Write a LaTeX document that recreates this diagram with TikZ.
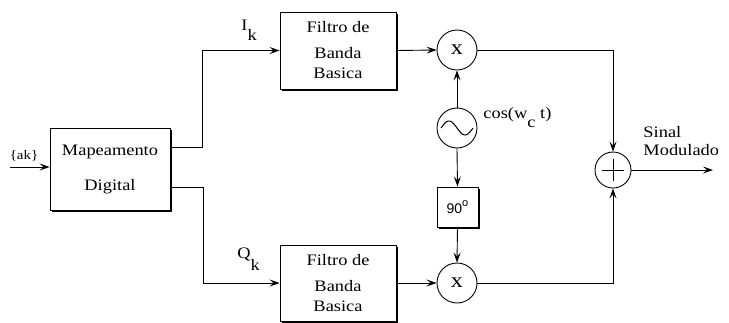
\documentclass[tikz,border=0pt]{standalone}
\usepackage{fontspec}
\setmainfont{Liberation Serif}[FakeStretch=1.15]
\newfontfamily\sansf{Liberation Sans}
\usetikzlibrary{arrows.meta,shadows}

\begin{document}
\begin{tikzpicture}[x=1pt,y=-1pt,
  line width=0.9pt,
  arr/.style={-{Stealth[length=10pt,width=7pt,inset=4pt]}},
  blockbox/.style={draw, fill=white, rectangle, inner sep=0pt, align=center,
    drop shadow={shadow xshift=2pt,shadow yshift=-2pt,fill=black,opacity=1}},
  circ/.style={draw, fill=white, circle, minimum size=40pt, inner sep=0pt},
  lbl/.style={font=\fontsize{16}{18}\selectfont, inner sep=0pt},
]
\useasboundingbox (0,0) rectangle (729,322);

% blocks
\node[blockbox, minimum width=120pt, minimum height=82pt,
      font=\fontsize{16}{35}\selectfont] (map) at (110,169) {Mapeamento\\Digital};
\node[blockbox, minimum width=116pt, minimum height=77pt,
      font=\fontsize{16}{20}\selectfont] (f1) at (338,50.5) {Filtro de\\[6pt]Banda\\Basica};
\node[blockbox, minimum width=116pt, minimum height=76pt,
      font=\fontsize{16}{20}\selectfont] (f2) at (338,283) {Filtro de\\[6pt]Banda\\Basica};
\node[circ, font=\fontsize{21}{22}\selectfont] (m1) at (457,50) {x};
\node[circ, font=\fontsize{21}{22}\selectfont] (m2) at (457,283) {x};
\node[circ] (osc) at (457,128) {};
\draw[line width=1pt] plot[domain=-16:16, samples=50] ({457+\x}, {128+7*sin(\x*180/16)});
\node[blockbox, minimum width=41pt, minimum height=40pt,
      font=\sansf\fontsize{14}{16}\selectfont] (ph) at (457.5,207) {90\raisebox{7pt}{\fontsize{11}{12}\selectfont o}};
\node[draw, fill=white, circle, minimum size=36pt, inner sep=0pt] (sum) at (613,170) {};
\draw (sum.center) ++(-11,0) -- ++(22,0);
\draw (sum.center) ++(0,-11) -- ++(0,22);

% connectors
\coordinate (in) at (10,167);
\coordinate (out) at (713,170);
\draw[arr] (in) -- (map.west |- in);
\draw[arr] ([yshift=22pt]map.east) -- ++(32,0) |- (f1.west);
\draw[arr] ([yshift=-18pt]map.east) -- ++(33,0) |- (f2.west);
\draw[arr] (f1.east) -- (m1.west);
\draw[arr] (f2.east) -- (m2.west);
\draw[arr] (osc.north) -- (m1.south);
\draw[arr] (osc.south) -- (ph.north);
\draw[arr] (ph.south) -- (m2.north);
\draw[arr] (m1.east) -| (sum.north);
\draw[arr] (m2.east) -| (sum.south);
\draw[arr] (sum.east) -- (out);

% labels
\node[font=\fontsize{13}{14}\selectfont, inner sep=0pt] (ak) at (24,156) {\{ak\}};
\node[lbl, anchor=base west] (ik) at (241,30) {I\raisebox{-10pt}{k}};
\node[lbl, anchor=base west] (qk) at (237,258) {Q\raisebox{-12pt}{k}};
\node[lbl, anchor=base west] (cos) at (483,118) {cos(w\raisebox{-9pt}{c} t)};
\node[lbl, anchor=base west] (sinal) at (643,137) {Sinal};
\node[lbl, anchor=base west] (mod) at (643,155) {Modulado};
\end{tikzpicture}
\end{document}
